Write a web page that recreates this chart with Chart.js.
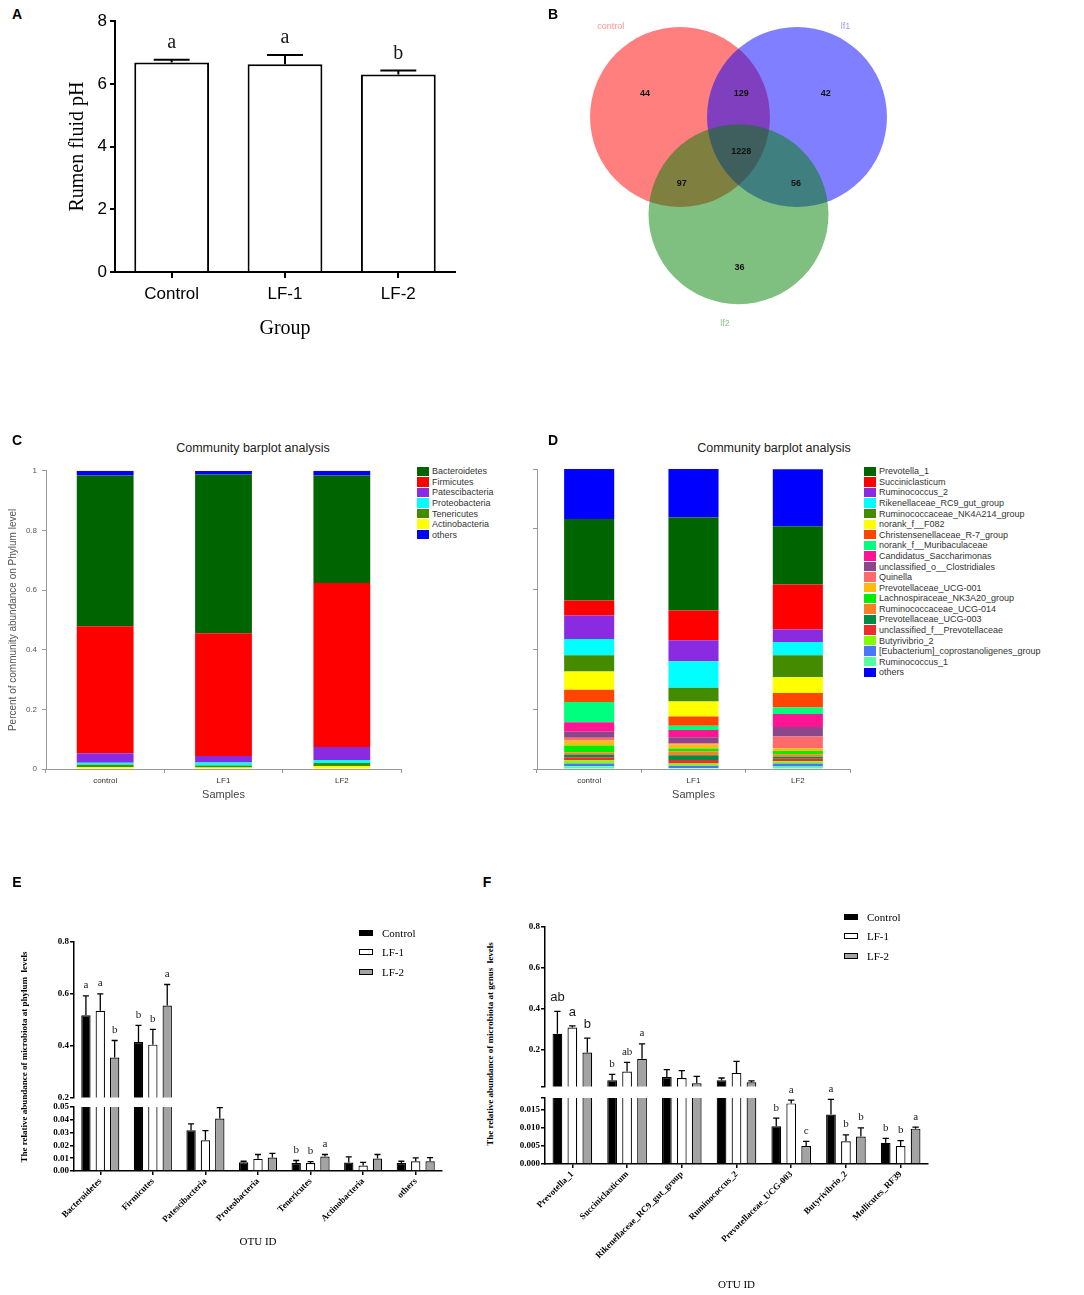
<!DOCTYPE html>
<html>
<head>
<meta charset="utf-8">
<title>Rumen pH and rumen microbiota</title>
<script src="https://cdn.jsdelivr.net/npm/chart.js@4.4.0/dist/chart.umd.min.js"></script>
<style>
  body { margin: 0; background: #fff; }
  #fig { position: relative; width: 1084px; height: 1295px; overflow: hidden; font-family: "Liberation Sans", Arial, sans-serif; color: #000; }
  #fig canvas { position: absolute; }
  .txt { position: absolute; white-space: pre; line-height: 1; }
  .sw { position: absolute; box-sizing: border-box; }
</style>
</head>
<body>
<div id="fig"></div>
<script>
const SANS = '"Liberation Sans", Arial, sans-serif';
const SERIF = '"Liberation Serif", "Times New Roman", serif';

// ---- A: rumen fluid pH ----
const groupsA = ['Control', 'LF-1', 'LF-2'];
const phA = [6.68, 6.63, 6.30];
const phErrA = [0.09, 0.29, 0.13];
const phLettersA = ['a', 'a', 'b'];
const phTicks = [0, 2, 4, 6, 8];

// ---- B: venn of OTUs ----
const vennNames = ['control', 'lf1', 'lf2'];
const vennCounts = ['44', '129', '42', '1228', '97', '56', '36'];
// centres and label spots measured in circle radii
const vennCx = [0, 1.3, 0.65];
const vennCy = [0, 0, 1.08];
const vennNameX = [-0.77, 1.84, 0.5];
const vennNameY = [-1.01, -1.01, 2.29];
const vennCountX = [-0.39, 0.68, 1.62, 0.68, 0.02, 1.29, 0.66];
const vennCountY = [-0.26, -0.26, -0.26, 0.38, 0.74, 0.74, 1.67];

// ---- C: phylum composition ----
const samples = ['control', 'LF1', 'LF2'];
const phyla = ['Bacteroidetes', 'Firmicutes', 'Patescibacteria', 'Proteobacteria', 'Tenericutes', 'Actinobacteria', 'others'];
const phylumColors = ['#006400', '#ff0000', '#8a2be2', '#00ffff', '#458b00', '#ffff00', '#0000ff'];
const phylumControl = [0.505, 0.426, 0.032, 0.007, 0.007, 0.007, 0.016];
const phylumLF1 = [0.533, 0.411, 0.022, 0.010, 0.007, 0.005, 0.011];
const phylumLF2 = [0.360, 0.550, 0.044, 0.010, 0.011, 0.009, 0.016];
const shareTicks = [0, 0.2, 0.4, 0.6, 0.8, 1];
const shareTickLabels = ['0', '0.2', '0.4', '0.6', '0.8', '1'];

// ---- D: genus composition ----
const genera = ['Prevotella_1', 'Succiniclasticum', 'Ruminococcus_2', 'Rikenellaceae_RC9_gut_group',
  'Ruminococcaceae_NK4A214_group', 'norank_f__F082', 'Christensenellaceae_R-7_group', 'norank_f__Muribaculaceae',
  'Candidatus_Saccharimonas', 'unclassified_o__Clostridiales', 'Quinella', 'Prevotellaceae_UCG-001',
  'Lachnospiraceae_NK3A20_group', 'Ruminococcaceae_UCG-014', 'Prevotellaceae_UCG-003', 'unclassified_f__Prevotellaceae',
  'Butyrivibrio_2', '[Eubacterium]_coprostanoligenes_group', 'Ruminococcus_1', 'others'];
const genusColors = ['#006400', '#ff0000', '#8a2be2', '#00ffff', '#458b00', '#ffff00', '#ff4500', '#00ff7f',
  '#ff1493', '#8b4789', '#ff6a6a', '#ffb90f', '#00ee00', '#ff7f24', '#008b45', '#ee2c2c',
  '#7fff00', '#4876ff', '#54ff9f', '#0000ff'];
const genusControl = [0.271, 0.050, 0.079, 0.054, 0.054, 0.061, 0.041, 0.067, 0.032, 0.020, 0.009, 0.017, 0.022, 0.008, 0.009, 0.010, 0.011, 0.009, 0.009, 0.167];
const genusLF1 = [0.310, 0.099, 0.070, 0.088, 0.046, 0.050, 0.031, 0.014, 0.024, 0.020, 0.004, 0.014, 0.009, 0.013, 0.016, 0.012, 0.007, 0.008, 0.003, 0.162];
const genusLF2 = [0.194, 0.150, 0.042, 0.044, 0.072, 0.054, 0.048, 0.022, 0.043, 0.032, 0.039, 0.009, 0.011, 0.008, 0.007, 0.008, 0.008, 0.010, 0.008, 0.190];

// ---- E: phylum abundance per group ----
const seriesNames = ['Control', 'LF-1', 'LF-2'];
const phylaE = ['Bacteroidetes', 'Firmicutes', 'Patescibacteria', 'Proteobacteria', 'Tenericutes', 'Actinobacteria', 'others'];
const ctrlE = [0.517, 0.414, 0.0318, 0.0068, 0.0063, 0.0066, 0.0063];
const lf1E = [0.535, 0.404, 0.0240, 0.0095, 0.0063, 0.0042, 0.0076];
const lf2E = [0.354, 0.555, 0.0410, 0.0105, 0.0113, 0.0097, 0.0076];
const ctrlErrE = [0.075, 0.064, 0.0050, 0.0008, 0.0019, 0.0044, 0.0013];
const lf1ErrE = [0.065, 0.059, 0.0076, 0.0034, 0.0011, 0.0026, 0.0027];
const lf2ErrE = [0.066, 0.081, 0.0085, 0.0032, 0.0016, 0.0032, 0.0029];
const ctrlLettersE = ['a', 'b', '', '', 'b', '', ''];
const lf1LettersE = ['a', 'b', '', '', 'b', '', ''];
const lf2LettersE = ['b', 'a', '', '', 'a', '', ''];
const upperTicksE = [0.2, 0.4, 0.6, 0.8];
const upperTickLabelsE = ['0.2', '0.4', '0.6', '0.8'];
const lowerTicksE = [0, 0.01, 0.02, 0.03, 0.04, 0.05];
const lowerTickLabelsE = ['0.00', '0.01', '0.02', '0.03', '0.04', '0.05'];

// ---- F: genus abundance per group ----
const generaF = ['Prevotella_1', 'Succiniclasticum', 'Rikenellaceae_RC9_gut_group', 'Ruminococcus_2', 'Prevotellaceae_UCG-003', 'Butyrivibrio_2', 'Mollicutes_RF39'];
const ctrlF = [0.278, 0.051, 0.067, 0.051, 0.0105, 0.0137, 0.0059];
const lf1F = [0.309, 0.094, 0.062, 0.087, 0.0168, 0.0063, 0.0050];
const lf2F = [0.187, 0.156, 0.036, 0.041, 0.0050, 0.0076, 0.0098];
const ctrlErrF = [0.110, 0.029, 0.036, 0.011, 0.0022, 0.0042, 0.0012];
const lf1ErrF = [0.008, 0.044, 0.036, 0.056, 0.0009, 0.0018, 0.0015];
const lf2ErrF = [0.070, 0.073, 0.034, 0.007, 0.0013, 0.0024, 0.0004];
const ctrlLettersF = ['ab', 'b', '', '', 'b', 'a', 'b'];
const lf1LettersF = ['a', 'ab', '', '', 'a', 'b', 'b'];
const lf2LettersF = ['b', 'a', '', '', 'c', 'b', 'a'];
const upperTicksF = [0.02, 0.2, 0.4, 0.6, 0.8];
const upperTickLabelsF = ['', '0.2', '0.4', '0.6', '0.8'];
const lowerTicksF = [0, 0.005, 0.01, 0.015, 0.0183];
const lowerTickLabelsF = ['0.000', '0.005', '0.010', '0.015', ''];

const seriesFill = ['#000000', '#ffffff', '#a3a3a3'];

Chart.defaults.font.family = SANS;
Chart.defaults.color = '#000';

const fig = document.getElementById('fig');

function canvasAt(left, top, w, h) {
    const c = document.createElement('canvas');
    c.width = w;
    c.height = h;
    c.style.cssText = `left:${left}px;top:${top}px;width:${w}px;height:${h}px`;
    fig.appendChild(c);
    return c;
}

// anchor 'c' centres the text on (x, y), 'l' puts its left edge there
function label(str, x, y, css, anchor) {
    const d = document.createElement('div');
    d.className = 'txt';
    d.textContent = str;
    d.style.left = x + 'px';
    d.style.top = y + 'px';
    d.style.transform = anchor === 'l' ? 'translateY(-50%)' : 'translate(-50%, -50%)';
    Object.assign(d.style, css || {});
    fig.appendChild(d);
    return d;
}

function swatch(x, y, w, h, css) {
    const b = document.createElement('div');
    b.className = 'sw';
    Object.assign(b.style, { left: x + 'px', top: (y - h / 2) + 'px', width: w + 'px', height: h + 'px' }, css);
    fig.appendChild(b);
}

// error bars (upwards only) and significance letters
const errorBars = {
    id: 'errbars',
    afterDatasetsDraw(chart, args, o) {
        if (!o.errors) return;
        const ctx = chart.ctx;
        const y = chart.scales.y;
        ctx.save();
        ctx.strokeStyle = '#000';
        ctx.lineWidth = o.lineWidth;
        ctx.textAlign = 'center';
        ctx.textBaseline = 'bottom';
        ctx.fillStyle = '#1a1a1a';
        chart.data.datasets.forEach((ds, di) => {
            chart.getDatasetMeta(di).data.forEach((bar, i) => {
                const v = ds.data[i];
                // on a broken axis the other half draws this one
                if (v < y.min || v > y.max) return;
                const top = y.getPixelForValue(v + o.errors[di][i]);
                const half = bar.width * o.cap / 2;
                ctx.beginPath();
                ctx.moveTo(bar.x, bar.y);
                ctx.lineTo(bar.x, top);
                ctx.moveTo(bar.x - half, top);
                ctx.lineTo(bar.x + half, top);
                ctx.stroke();
                const letter = o.letters && o.letters[di][i];
                if (letter) {
                    const first = i === 0 && o.firstFont;
                    ctx.font = first ? o.firstFont : o.font;
                    ctx.fillText(letter, bar.x, top - (first ? o.firstGap : o.gap));
                }
            });
        });
        ctx.restore();
    }
};

// ================= A =================
new Chart(canvasAt(60, 8, 405, 334), {
    type: 'bar',
    data: {
        labels: groupsA,
        datasets: [{
            data: phA,
            backgroundColor: '#fff',
            borderColor: '#000',
            borderWidth: 2,
            barPercentage: 0.66,
            categoryPercentage: 1
        }]
    },
    options: {
        responsive: false, animation: false, events: [],
        layout: { padding: { top: 12, right: 10, left: 0, bottom: 0 } },
        plugins: {
            legend: { display: false }, tooltip: { enabled: false },
            errbars: { errors: [phErrA], letters: [phLettersA], cap: 0.48, lineWidth: 2, gap: 7, font: '20px ' + SERIF }
        },
        scales: {
            x: {
                afterFit: s => { s.height = 70; },
                grid: { drawOnChartArea: false, offset: false, tickLength: 6, color: '#000', lineWidth: 2 },
                border: { color: '#000', width: 2 },
                ticks: { font: { size: 17 }, color: '#000', padding: 6 },
                title: { display: true, text: 'Group', font: { family: SERIF, size: 20 }, color: '#000', padding: { top: 0, bottom: 1 } }
            },
            y: {
                min: 0, max: 8,
                afterFit: s => { s.width = 55; },
                afterBuildTicks: s => { s.ticks = phTicks.map(v => ({ value: v })); },
                grid: { drawOnChartArea: false, tickLength: 5, color: '#000', lineWidth: 2 },
                border: { color: '#000', width: 2 },
                ticks: { font: { size: 17 }, color: '#000', padding: 3, autoSkip: false },
                title: { display: true, text: 'Rumen fluid pH', font: { family: SERIF, size: 20 }, color: '#000', padding: { top: 6, bottom: 0 } }
            }
        }
    },
    plugins: [errorBars]
});

// ================= B =================
const vennFill = ['rgba(255,0,0,0.5)', 'rgba(0,0,255,0.5)', 'rgba(0,128,0,0.5)'];
const vennNameColors = ['#ff9090', '#9a9aff', '#8cc98c'];
const vennText = {
    id: 'vennText',
    afterDatasetsDraw(chart) {
        const { ctx, scales: { x, y } } = chart;
        ctx.save();
        ctx.textAlign = 'center';
        ctx.textBaseline = 'middle';
        ctx.font = '9px ' + SANS;
        vennNames.forEach((n, i) => {
            ctx.fillStyle = vennNameColors[i];
            ctx.fillText(n, x.getPixelForValue(vennNameX[i]), y.getPixelForValue(vennNameY[i]));
        });
        ctx.font = 'bold 9px ' + SANS;
        ctx.fillStyle = '#111';
        vennCounts.forEach((n, i) => {
            ctx.fillText(n, x.getPixelForValue(vennCountX[i]), y.getPixelForValue(vennCountY[i]));
        });
        ctx.restore();
    }
};
// Chart.js paints the first dataset last, so list the sets back to front
const vennOrder = [2, 1, 0];
const venn = new Chart(canvasAt(540, 0, 380, 340), {
    type: 'bubble',
    data: {
        datasets: vennOrder.map(i => ({
            label: vennNames[i],
            data: [{ x: vennCx[i], y: vennCy[i], r: 1 }],
            backgroundColor: vennFill[i],
            borderWidth: 0,
            hoverBorderWidth: 0
        }))
    },
    options: {
        responsive: false, animation: false, events: [],
        layout: { padding: 0, autoPadding: false },
        plugins: { legend: { display: false }, tooltip: { enabled: false } },
        scales: {
            x: { type: 'linear', display: false, min: -1.556, max: 2.667 },
            y: { type: 'linear', display: false, reverse: true, min: -1.3, max: 2.478 }
        }
    },
    plugins: [vennText]
});
// bubble radius is in pixels: make it one unit of the x scale
const radiusPx = venn.scales.x.getPixelForValue(1) - venn.scales.x.getPixelForValue(0);
venn.data.datasets.forEach(d => { d.data[0].r = radiusPx; });
venn.update();

// ================= C and D =================
function communityChart(canvas, names, colors, perSample, yWidth, yTitle) {
    const n = names.length;
    // "others" sits on top, the rest stack bottom-up in reverse legend order
    const order = [...Array(n - 1).keys()].reverse().concat(n - 1);
    return new Chart(canvas, {
        type: 'bar',
        data: {
            labels: samples,
            datasets: order.map(i => ({
                label: names[i],
                data: perSample.map(s => s[i]),
                backgroundColor: colors[i],
                borderWidth: 0,
                barPercentage: 0.48,
                categoryPercentage: 1
            }))
        },
        options: {
            responsive: false, animation: false, events: [],
            layout: { padding: { top: 8, right: 4, left: 0, bottom: 0 } },
            plugins: { legend: { display: false }, tooltip: { enabled: false } },
            scales: {
                x: {
                    stacked: true,
                    afterFit: s => { s.height = 34; },
                    grid: { drawOnChartArea: false, offset: true, tickLength: 4, color: '#999' },
                    border: { color: '#999' },
                    ticks: { font: { size: 8 }, color: '#333', padding: 3 },
                    title: { display: true, text: 'Samples', font: { size: 11 }, color: '#444', padding: { top: 0, bottom: 1.4 } }
                },
                y: {
                    stacked: true, min: 0, max: 1,
                    afterFit: s => { s.width = yWidth; },
                    afterBuildTicks: s => { s.ticks = shareTicks.map(v => ({ value: v })); },
                    grid: { drawOnChartArea: false, tickLength: 4, color: '#999' },
                    border: { color: '#999' },
                    ticks: { display: !!yTitle, autoSkip: false, callback: (v, i) => shareTickLabels[i], font: { size: 8 }, color: '#555', padding: 5 },
                    title: { display: !!yTitle, text: yTitle || '', font: { size: 10 }, color: '#555', padding: { top: 7, bottom: 0 } }
                }
            }
        }
    });
}

communityChart(canvasAt(0, 461, 405, 342), phyla, phylumColors,
    [phylumControl, phylumLF1, phylumLF2], 46, 'Percent of community abundance on Phylum level');
communityChart(canvasAt(527, 461, 327, 342), genera, genusColors,
    [genusControl, genusLF1, genusLF2], 10, null);

label('Community barplot analysis', 253, 448, { fontSize: '12.5px', color: '#222' });
label('Community barplot analysis', 774, 448, { fontSize: '12.5px', color: '#222' });

function boxLegend(names, colors, boxX, textX, y0, step) {
    names.forEach((n, k) => {
        const cy = y0 + k * step;
        swatch(boxX, cy, 11.5, 9.4, { background: colors[k] });
        label(n, textX, cy, { fontSize: '9px', color: '#333' }, 'l');
    });
}
boxLegend(phyla, phylumColors, 417, 432, 471.3, 10.57);
boxLegend(genera, genusColors, 864, 879, 471.3, 10.58);

// ================= E and F =================
function groupedChart(canvas, p) {
    return new Chart(canvas, {
        type: 'bar',
        data: {
            labels: p.labels,
            datasets: p.values.map((d, k) => ({
                label: seriesNames[k],
                data: d,
                backgroundColor: seriesFill[k],
                borderColor: '#000',
                borderWidth: 1.2,
                categoryPercentage: 0.82,
                barPercentage: 0.65
            }))
        },
        options: {
            responsive: false, animation: false, events: [],
            layout: { padding: p.padding },
            plugins: {
                legend: { display: false }, tooltip: { enabled: false },
                errbars: {
                    errors: p.errors, letters: p.letters, cap: 0.65, lineWidth: 1.3,
                    gap: 5, font: '11px ' + SERIF, firstFont: p.firstFont || '', firstGap: 7
                }
            },
            scales: {
                x: p.xHeight ? {
                    afterFit: s => { s.height = p.xHeight; },
                    grid: { drawOnChartArea: false, offset: false, tickLength: 4, color: '#000', lineWidth: 1.5 },
                    border: { color: '#000', width: 1.5 },
                    ticks: { font: { family: SERIF, weight: 'bold', size: 9 }, color: '#000', maxRotation: 45, minRotation: 45, autoSkip: false, padding: 1 },
                    title: { display: true, text: 'OTU ID', font: { family: SERIF, size: 11 }, color: '#000', padding: { top: 0, bottom: p.titlePad } }
                } : { display: false },
                y: {
                    min: p.ticks[0], max: p.ticks[p.ticks.length - 1],
                    afterFit: s => { s.width = 50; },
                    afterBuildTicks: s => { s.ticks = p.ticks.map(v => ({ value: v })); },
                    grid: { drawOnChartArea: false, tickLength: 4, color: '#000', lineWidth: 1.5 },
                    border: { color: '#000', width: 1.5 },
                    ticks: { autoSkip: false, callback: (v, i) => p.tickLabels[i], font: { family: SERIF, weight: 'bold', size: 9 }, color: '#000', padding: 1 }
                }
            }
        },
        plugins: [errorBars]
    });
}

const valuesE = [ctrlE, lf1E, lf2E];
const errorsE = [ctrlErrE, lf1ErrE, lf2ErrE];
const lettersE = [ctrlLettersE, lf1LettersE, lf2LettersE];
groupedChart(canvasAt(24, 932, 422, 172), {
    labels: phylaE, values: valuesE, errors: errorsE, letters: lettersE,
    ticks: upperTicksE, tickLabels: upperTickLabelsE,
    padding: { top: 10, right: 4, left: 0, bottom: 6.5 }
});
groupedChart(canvasAt(24, 1099, 422, 152), {
    labels: phylaE, values: valuesE, errors: errorsE, letters: lettersE,
    ticks: lowerTicksE, tickLabels: lowerTickLabelsE,
    padding: { top: 8, right: 4, left: 0, bottom: 0 }, xHeight: 80, titlePad: 2.4
});

const valuesF = [ctrlF, lf1F, lf2F];
const errorsF = [ctrlErrF, lf1ErrF, lf2ErrF];
const lettersF = [ctrlLettersF, lf1LettersF, lf2LettersF];
groupedChart(canvasAt(495, 917, 437, 176), {
    labels: generaF, values: valuesF, errors: errorsF, letters: lettersF,
    ticks: upperTicksF, tickLabels: upperTickLabelsF, firstFont: '13px ' + SANS,
    padding: { top: 10, right: 4, left: 0, bottom: 6 }
});
groupedChart(canvasAt(495, 1074, 437, 221), {
    labels: generaF, values: valuesF, errors: errorsF, letters: lettersF,
    ticks: lowerTicksF, tickLabels: lowerTickLabelsF,
    padding: { top: 24, right: 4, left: 0, bottom: 0 }, xHeight: 131, titlePad: 3.4
});

function seriesLegend(boxX, textX, rows) {
    seriesNames.forEach((n, k) => {
        swatch(boxX, rows[k], 14, 6, { background: seriesFill[k], border: '1.5px solid #000' });
        label(n, textX, rows[k], { fontFamily: SERIF, fontSize: '11px' }, 'l');
    });
}
seriesLegend(359, 382, [933, 952, 972]);
seriesLegend(844, 867, [917, 936, 956]);

const yTitleCss = { fontFamily: SERIF, fontWeight: 'bold', fontSize: '9px', transform: 'translate(-50%, -50%) rotate(-90deg)' };
label('The relative abundance of microbiota at phylum  levels', 24, 1057, yTitleCss);
label('The relative abundance of microbiota at genus  levels', 490, 1044, yTitleCss);

// panel letters
const panelCss = { fontWeight: 'bold', fontSize: '14px' };
label('A', 17, 14, panelCss);
label('B', 553, 14, panelCss);
label('C', 17, 440, panelCss);
label('D', 553, 440, panelCss);
label('E', 17, 882, panelCss);
label('F', 487, 882, panelCss);
</script>
</body>
</html>
